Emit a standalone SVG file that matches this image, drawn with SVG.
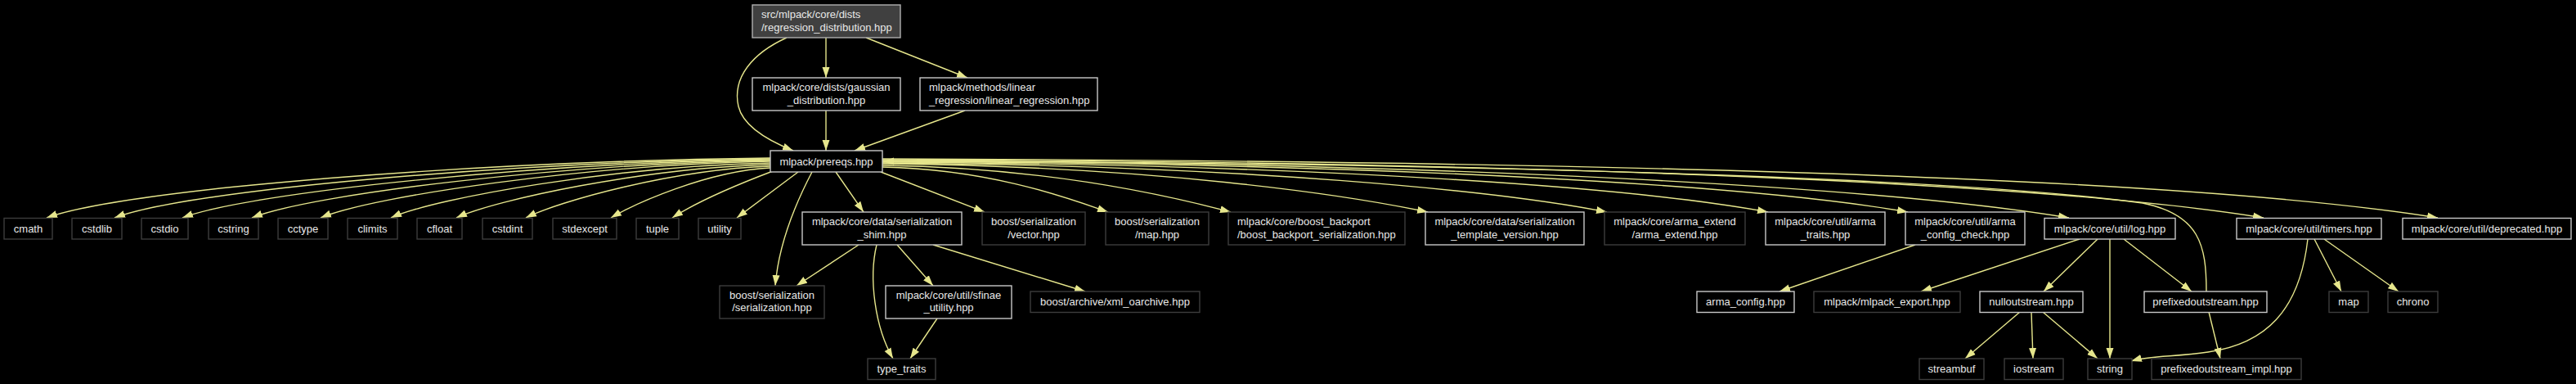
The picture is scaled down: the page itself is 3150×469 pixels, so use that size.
<svg xmlns="http://www.w3.org/2000/svg" width="3150" height="469" viewBox="0 0 3150 469">
<defs>
<marker id="a" markerUnits="userSpaceOnUse" markerWidth="14" markerHeight="10" refX="13" refY="5" orient="auto"><path d="M0,0.5 L13,5 L0,9.5z" fill="#e6e68c"/></marker>
<style>
.nd rect{fill:#000;stroke:#c8c8c8;stroke-width:1.4}
.ext rect{stroke:#3c3c3c}
#root rect{fill:#404040;stroke:#b0b0b0}
text{font-family:"Liberation Sans",Arial,sans-serif;font-size:13px;fill:#e8e8e8}
.c{text-anchor:middle}
#edges path{fill:none;stroke:#e6e68c;stroke-width:1.4;marker-end:url(#a)}
</style>
</defs>
<rect width="3150" height="469" fill="#000"/>
<g id="edges">
<path d="M962,46 C920,65 895,95 903,130 C909,155 940,172 970,184"/>
<path d="M1010,46 L1010,95"/>
<path d="M1059,46 L1183,95"/>
<path d="M1010,135 L1010,184"/>
<path d="M1180,135 L1045,184"/>
<path d="M942,193 C588,197 156,230 57,266"/>
<path d="M942,194 C621,198 230,232 140,266"/>
<path d="M942,195 C654,199 305,235 223,266"/>
<path d="M942,196 C688,200 381,237 308,266"/>
<path d="M942,197 C722,201 457,239 392,266"/>
<path d="M942,199 C756,203 534,241 478,266"/>
<path d="M942,201 C788,205 606,244 558,266"/>
<path d="M942,203 C822,207 683,246 643,266"/>
<path d="M942,205 C864,209 776,249 747,266"/>
<path d="M945,209 C900,226 850,248 822,266"/>
<path d="M976,210 L901,266"/>
<path d="M993,210 C972,250 952,300 948,349"/>
<path d="M1022,210 L1056,259"/>
<path d="M1077,210 L1204,259"/>
<path d="M1079,204 C1217,207 1314,245 1355,259"/>
<path d="M1079,202 C1292,205 1441,242 1505,259"/>
<path d="M1079,200 C1412,203 1646,238 1746,259"/>
<path d="M1079,199 C1522,202 1832,233 1965,259"/>
<path d="M1079,198 C1620,201 2000,229 2162,259"/>
<path d="M1079,197 C1706,200 2145,226 2333,259"/>
<path d="M1079,196 C1804,199 2312,230 2530,266"/>
<path d="M1079,195 C1923,198 2515,225 2768,266"/>
<path d="M1079,194 C2030,197 2696,220 2981,266"/>
<path d="M2698,356 C2698,300 2690,262 2620,248 C2300,205 1400,197 1080,197"/>
<path d="M1050,299 L974,349"/>
<path d="M1072,299 C1062,340 1070,400 1092,438"/>
<path d="M1097,299 L1141,349"/>
<path d="M1141,299 L1327,356"/>
<path d="M1146,389 L1113,438"/>
<path d="M2342,299 L2176,356"/>
<path d="M2543,292 L2349,356"/>
<path d="M2565,292 L2499,356"/>
<path d="M2580,292 L2580,438"/>
<path d="M2597,292 L2680,356"/>
<path d="M2470,381 L2403,438"/>
<path d="M2484,381 L2486,438"/>
<path d="M2498,381 L2565,438"/>
<path d="M2701,381 L2715,438"/>
<path d="M2822,292 C2812,380 2770,420 2700,430 C2660,436 2630,434 2606,441"/>
<path d="M2830,292 L2863,356"/>
<path d="M2842,292 L2933,356"/>
</g>
<g id="root" class="nd"><rect x="920" y="6" width="181" height="40"/><text x="931" y="22">src/mlpack/core/dists</text><text x="931" y="38">/regression_distribution.hpp</text></g>
<g id="gaussian" class="nd"><rect x="920" y="95" width="181" height="40"/><text class="c" x="1010.5" y="111">mlpack/core/dists/gaussian</text><text class="c" x="1010.5" y="126.5">_distribution.hpp</text></g>
<g id="linear" class="nd"><rect x="1125" y="95" width="217" height="40"/><text x="1136" y="111">mlpack/methods/linear</text><text x="1136" y="126.5">_regression/linear_regression.hpp</text></g>
<g id="prereqs" class="nd"><rect x="942" y="184" width="137" height="26"/><text class="c" x="1010.5" y="201.5">mlpack/prereqs.hpp</text></g>
<g id="cmath" class="nd ext"><rect x="5" y="266.5" width="59" height="25.5"/><text class="c" x="34.5" y="283.5">cmath</text></g>
<g id="cstdlib" class="nd ext"><rect x="88" y="266.5" width="61" height="25.5"/><text class="c" x="118.5" y="283.5">cstdlib</text></g>
<g id="cstdio" class="nd ext"><rect x="173" y="266.5" width="57" height="25.5"/><text class="c" x="201.5" y="283.5">cstdio</text></g>
<g id="cstring" class="nd ext"><rect x="255" y="266.5" width="61" height="25.5"/><text class="c" x="285.5" y="283.5">cstring</text></g>
<g id="cctype" class="nd ext"><rect x="340" y="266.5" width="61" height="25.5"/><text class="c" x="370.5" y="283.5">cctype</text></g>
<g id="climits" class="nd ext"><rect x="425" y="266.5" width="61" height="25.5"/><text class="c" x="455.5" y="283.5">climits</text></g>
<g id="cfloat" class="nd ext"><rect x="510" y="266.5" width="55" height="25.5"/><text class="c" x="537.5" y="283.5">cfloat</text></g>
<g id="cstdint" class="nd ext"><rect x="590" y="266.5" width="61" height="25.5"/><text class="c" x="620.5" y="283.5">cstdint</text></g>
<g id="stdexcept" class="nd ext"><rect x="676" y="266.5" width="78" height="25.5"/><text class="c" x="715" y="283.5">stdexcept</text></g>
<g id="tuple" class="nd ext"><rect x="778" y="266.5" width="52" height="25.5"/><text class="c" x="804" y="283.5">tuple</text></g>
<g id="utility" class="nd ext"><rect x="854" y="266.5" width="52" height="25.5"/><text class="c" x="880" y="283.5">utility</text></g>
<g id="shim" class="nd"><rect x="981" y="259" width="195" height="40"/><text class="c" x="1078.5" y="275.3">mlpack/core/data/serialization</text><text class="c" x="1078.5" y="290.6">_shim.hpp</text></g>
<g id="vector" class="nd ext"><rect x="1201" y="259" width="126" height="40"/><text class="c" x="1264" y="275.3">boost/serialization</text><text class="c" x="1264" y="290.6">/vector.hpp</text></g>
<g id="maphpp" class="nd ext"><rect x="1352" y="259" width="126" height="40"/><text class="c" x="1415" y="275.3">boost/serialization</text><text class="c" x="1415" y="290.6">/map.hpp</text></g>
<g id="backport" class="nd ext"><rect x="1502" y="259" width="216" height="40"/><text x="1513" y="275.3">mlpack/core/boost_backport</text><text x="1513" y="290.6">/boost_backport_serialization.hpp</text></g>
<g id="tplver" class="nd"><rect x="1743" y="259" width="194" height="40"/><text class="c" x="1840" y="275.3">mlpack/core/data/serialization</text><text class="c" x="1840" y="290.6">_template_version.hpp</text></g>
<g id="armaext" class="nd ext"><rect x="1962" y="259" width="172" height="40"/><text class="c" x="2048" y="275.3">mlpack/core/arma_extend</text><text class="c" x="2048" y="290.6">/arma_extend.hpp</text></g>
<g id="armatraits" class="nd"><rect x="2159" y="259" width="146" height="40"/><text class="c" x="2232" y="275.3">mlpack/core/util/arma</text><text class="c" x="2232" y="290.6">_traits.hpp</text></g>
<g id="armacheck" class="nd"><rect x="2330" y="259" width="146" height="40"/><text class="c" x="2403" y="275.3">mlpack/core/util/arma</text><text class="c" x="2403" y="290.6">_config_check.hpp</text></g>
<g id="log" class="nd"><rect x="2500" y="266.5" width="160" height="25.5"/><text class="c" x="2580" y="283.5">mlpack/core/util/log.hpp</text></g>
<g id="timers" class="nd"><rect x="2735" y="266.5" width="177" height="25.5"/><text class="c" x="2823.5" y="283.5">mlpack/core/util/timers.hpp</text></g>
<g id="deprecated" class="nd"><rect x="2938" y="266.5" width="206" height="25.5"/><text class="c" x="3041" y="283.5">mlpack/core/util/deprecated.hpp</text></g>
<g id="serial" class="nd ext"><rect x="880" y="349" width="128" height="40"/><text class="c" x="944" y="365.3">boost/serialization</text><text class="c" x="944" y="380.3">/serialization.hpp</text></g>
<g id="sfinae" class="nd"><rect x="1083" y="349" width="154" height="40"/><text class="c" x="1160" y="365.3">mlpack/core/util/sfinae</text><text class="c" x="1160" y="380.3">_utility.hpp</text></g>
<g id="xml" class="nd ext"><rect x="1260" y="356" width="207" height="25.5"/><text class="c" x="1363.5" y="373">boost/archive/xml_oarchive.hpp</text></g>
<g id="armaconfig" class="nd"><rect x="2075" y="356" width="119" height="25.5"/><text class="c" x="2134.5" y="373">arma_config.hpp</text></g>
<g id="export" class="nd ext"><rect x="2218" y="356" width="179" height="25.5"/><text class="c" x="2307.5" y="373">mlpack/mlpack_export.hpp</text></g>
<g id="nullout" class="nd"><rect x="2421" y="356" width="126" height="25.5"/><text class="c" x="2484" y="373">nulloutstream.hpp</text></g>
<g id="prefixed" class="nd"><rect x="2622" y="356" width="150" height="25.5"/><text class="c" x="2697" y="373">prefixedoutstream.hpp</text></g>
<g id="map" class="nd ext"><rect x="2848" y="356" width="48" height="25.5"/><text class="c" x="2872" y="373">map</text></g>
<g id="chrono" class="nd ext"><rect x="2920" y="356" width="61" height="25.5"/><text class="c" x="2950.5" y="373">chrono</text></g>
<g id="typetraits" class="nd ext"><rect x="1061" y="438" width="83" height="25.5"/><text class="c" x="1102.5" y="455">type_traits</text></g>
<g id="streambuf" class="nd ext"><rect x="2347" y="438" width="79" height="25.5"/><text class="c" x="2386.5" y="455">streambuf</text></g>
<g id="iostream" class="nd ext"><rect x="2451" y="438" width="72" height="25.5"/><text class="c" x="2487" y="455">iostream</text></g>
<g id="string" class="nd ext"><rect x="2553" y="438" width="54" height="25.5"/><text class="c" x="2580" y="455">string</text></g>
<g id="impl" class="nd ext"><rect x="2631" y="438" width="183" height="25.5"/><text class="c" x="2722.5" y="455">prefixedoutstream_impl.hpp</text></g>
</svg>
